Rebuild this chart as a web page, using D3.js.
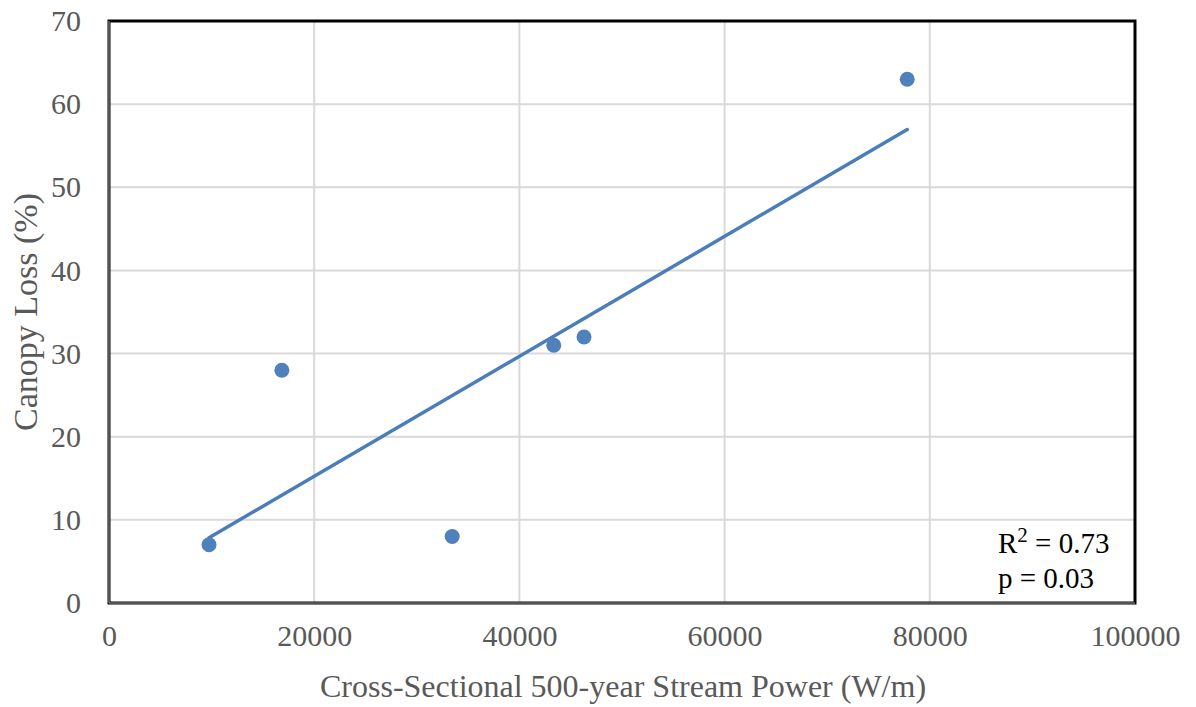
<!DOCTYPE html>
<html>
<head>
<meta charset="utf-8">
<script src="https://cdn.jsdelivr.net/npm/d3@7"></script>
<style>
  body { margin: 0; background: #fff; }
  text { font-family: "Liberation Serif", "Times New Roman", serif; }
</style>
</head>
<body>
<div id="chart"></div>
<script>
// data
const streamPower = [9750, 16850, 33450, 43350, 46300, 77800];
const canopyLoss = [7, 28, 8, 31, 32, 63];
const xTicks = [0, 20000, 40000, 60000, 80000, 100000];
const yTicks = [0, 10, 20, 30, 40, 50, 60, 70];
const statLines = ['R2 = 0.73', 'p = 0.03'];

const width = 1196;
const height = 707;
const margin = { top: 21, right: 61, bottom: 104, left: 109 };
const innerW = width - margin.left - margin.right;
const innerH = height - margin.top - margin.bottom;

const points = streamPower.map((x, i) => ({ x: x, y: canopyLoss[i] }));

const svg = d3.select('#chart')
    .append('svg')
    .attr('width', width)
    .attr('height', height);

const g = svg.append('g')
    .attr('transform', `translate(${margin.left},${margin.top})`);

const xScale = d3.scaleLinear().domain([0, 100000]).range([0, innerW]);
const yScale = d3.scaleLinear().domain([0, 70]).range([innerH, 0]);

// Grid
g.append('g')
    .selectAll('line.hgrid')
    .data(yTicks.slice(1, -1))
    .enter()
    .append('line')
    .attr('x1', 0)
    .attr('x2', innerW)
    .attr('y1', d => yScale(d))
    .attr('y2', d => yScale(d))
    .attr('stroke', '#d9d9d9')
    .attr('stroke-width', 2);

g.append('g')
    .selectAll('line.vgrid')
    .data(xTicks.slice(1, -1))
    .enter()
    .append('line')
    .attr('x1', d => xScale(d))
    .attr('x2', d => xScale(d))
    .attr('y1', 0)
    .attr('y2', innerH)
    .attr('stroke', '#d9d9d9')
    .attr('stroke-width', 2);

// Frame
g.append('rect')
    .attr('width', innerW)
    .attr('height', innerH)
    .attr('fill', 'none')
    .attr('stroke', '#000')
    .attr('stroke-width', 3);

// Axis lines (grey inside dark edge)
g.append('line')
    .attr('x1', 0).attr('x2', 0)
    .attr('y1', 0).attr('y2', innerH)
    .attr('stroke', '#a6a6a6').attr('stroke-width', 1);
g.append('line')
    .attr('x1', 0).attr('x2', innerW)
    .attr('y1', innerH).attr('y2', innerH)
    .attr('stroke', '#a6a6a6').attr('stroke-width', 1);

// Tick labels
const xAxis = d3.axisBottom(xScale).tickValues(xTicks).tickSize(0).tickPadding(22).tickFormat(d3.format('d'));
const gx = g.append('g').attr('transform', `translate(0,${innerH})`).call(xAxis);
gx.select('.domain').remove();
gx.selectAll('text')
    .attr('font-family', '"Liberation Serif", serif')
    .attr('font-size', 30)
    .attr('fill', '#595959');

const yAxis = d3.axisLeft(yScale).tickValues(yTicks).tickSize(0).tickPadding(28);
const gy = g.append('g').call(yAxis);
gy.select('.domain').remove();
gy.selectAll('text')
    .attr('font-family', '"Liberation Serif", serif')
    .attr('font-size', 30)
    .attr('fill', '#595959');

// Trend line (least squares fit)
const mx = d3.mean(points, d => d.x);
const my = d3.mean(points, d => d.y);
const slope = d3.sum(points, d => (d.x - mx) * (d.y - my)) / d3.sum(points, d => (d.x - mx) ** 2);
const intercept = my - slope * mx;
const xExt = d3.extent(points, d => d.x);

const line = d3.line()
    .x(d => xScale(d))
    .y(d => yScale(intercept + slope * d));

g.append('path')
    .datum(xExt)
    .attr('fill', 'none')
    .attr('stroke', '#4a7ebb')
    .attr('stroke-width', 3.5)
    .attr('stroke-linecap', 'round')
    .attr('d', line);

// Points
g.append('g')
    .selectAll('circle')
    .data(points)
    .enter()
    .append('circle')
    .attr('r', 7.5)
    .attr('cx', d => xScale(d.x))
    .attr('cy', d => yScale(d.y))
    .attr('fill', '#4f81bd');

// Stats box text
const stat = g.append('text')
    .attr('x', 889)
    .attr('y', 532)
    .attr('font-size', 29)
    .attr('fill', '#000');
stat.append('tspan').text('R');
stat.append('tspan').attr('dy', -11).attr('font-size', 21).text('2');
stat.append('tspan').attr('dy', 11).text(' = 0.73');
g.append('text')
    .attr('x', 889)
    .attr('y', 567)
    .attr('font-size', 29)
    .attr('fill', '#000')
    .text(statLines[1]);

// Axis titles
svg.append('text')
    .attr('x', 623)
    .attr('y', 697)
    .attr('text-anchor', 'middle')
    .attr('font-size', 32)
    .attr('fill', '#595959')
    .text('Cross-Sectional 500-year Stream Power (W/m)');

svg.append('text')
    .attr('transform', `translate(37,312) rotate(-90)`)
    .attr('text-anchor', 'middle')
    .attr('font-size', 34)
    .attr('fill', '#595959')
    .text('Canopy Loss (%)');
</script>
</body>
</html>
